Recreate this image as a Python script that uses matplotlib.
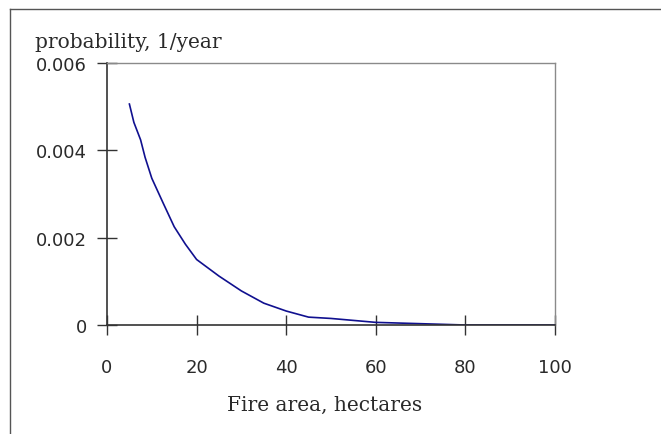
import matplotlib
matplotlib.use("Agg")
import matplotlib.pyplot as plt
from matplotlib.lines import Line2D

# ── Data ──────────────────────────────────────────────────────────────────────
area = [5, 6, 7.5, 8.5, 10, 12.5, 15, 17.5, 20, 25, 30, 35, 40, 45, 50, 60, 70, 80, 90, 100]
prob = [0.00506, 0.00464, 0.00424, 0.00384, 0.00336, 0.00280, 0.00225, 0.00185,
        0.00150, 0.00112, 0.00078, 0.00050, 0.00032, 0.00018, 0.00015, 0.00006,
        0.00003, 0.0, 0.0, 0.0]

x_ticks = [0, 20, 40, 60, 80, 100]
y_ticks = [0, 0.002, 0.004, 0.006]
y_tick_labels = ["0", "0.002", "0.004", "0.006"]

C_DARK = "#333333"
C_GREY = "#8a8a8a"
C_LINE = "#10108f"
C_TEXT = "#2a2a2a"

fig = plt.figure(figsize=(6.61, 4.35), dpi=100, facecolor="white")
ax = fig.add_axes([107 / 661, 1 - 326 / 435, (555 - 107) / 661, (326 - 64) / 435])

ax.plot(area, prob, color=C_LINE, linewidth=1.2)

ax.set_xlim(0, 100)
ax.set_ylim(0, 0.006)
ax.set_xticks(x_ticks)
ax.set_yticks(y_ticks)
ax.set_yticklabels(y_tick_labels)

for side in ("left", "bottom"):
    ax.spines[side].set_color(C_DARK)
    ax.spines[side].set_linewidth(1.2)
for side in ("top", "right"):
    ax.spines[side].set_color(C_GREY)
    ax.spines[side].set_linewidth(1.0)

ax.tick_params(axis="both", direction="inout", length=15, width=1.0,
               color=C_DARK, labelsize=13, labelcolor=C_TEXT)
ax.tick_params(axis="x", pad=16)
ax.tick_params(axis="y", pad=7)

# axis titles in a serif face, placed like the original
fig.text(35 / 661, 1 - 43 / 435, "probability, 1/year", ha="left", va="center",
         family="DejaVu Serif", fontsize=14.5, color=C_TEXT)
fig.text(325 / 661, 1 - 405 / 435, "Fire area, hectares", ha="center", va="center",
         family="DejaVu Serif", fontsize=14.5, color=C_TEXT)

# outer frame (top and left edges only)
fig.add_artist(Line2D([10 / 661, 1.0], [1 - 10 / 435, 1 - 10 / 435],
                      transform=fig.transFigure, color="#555555", linewidth=1.0))
fig.add_artist(Line2D([10 / 661, 10 / 661], [0.0, 1 - 10 / 435],
                      transform=fig.transFigure, color="#555555", linewidth=1.0))

fig.savefig("out.png", dpi=100, facecolor="white")
